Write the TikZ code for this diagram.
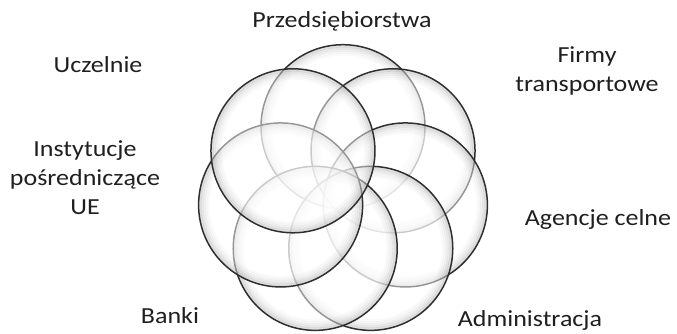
\documentclass[tikz,border=0pt]{standalone}
\usepackage{fontspec}
\setmainfont{Carlito}[FakeStretch=1.13]
\begin{document}
\begin{tikzpicture}[x=1pt,y=1pt,
  petalfill/.style={fill=white, fill opacity=0.5},
  petalglow/.style={draw=black, line width=2.2pt},
  petalline/.style={draw=black!82, line width=1.5pt},
  lbl/.style={font=\fontsize{23}{29}\selectfont, text=black!88, align=center, inner sep=0pt, anchor=base}]
\useasboundingbox (0,0) rectangle (677,334);
\coordinate (c) at (343,143.3);
\foreach \a in {90,38.57,-12.86,-64.29,-115.71,-167.14,141.43}{
  \begin{scope}[shift={(c)}]
    \fill[petalfill] (\a:64) circle[radius=82];
    \foreach \k/\o in {1.8/0.13,3.8/0.09,5.8/0.06,7.8/0.035,9.8/0.02}{
      \draw[petalglow, draw opacity=\o] (\a:64) circle[radius=82-\k];
    }
    \draw[petalline] (\a:64) circle[radius=82];
  \end{scope}
}
\node[lbl] (przed) at (342,306) {Przedsiębiorstwa};
\node[lbl] (ucz) at (98,261) {Uczelnie};
\node[lbl] (firmy) at (587,242) {Firmy\\transportowe};
\node[lbl] (inst) at (85,119) {Instytucje\\pośredniczące\\UE};
\node[lbl] (agen) at (598,108) {Agencje celne};
\node[lbl] (banki) at (170,10) {Banki};
\node[lbl] (admin) at (530,7) {Administracja};
\end{tikzpicture}
\end{document}
